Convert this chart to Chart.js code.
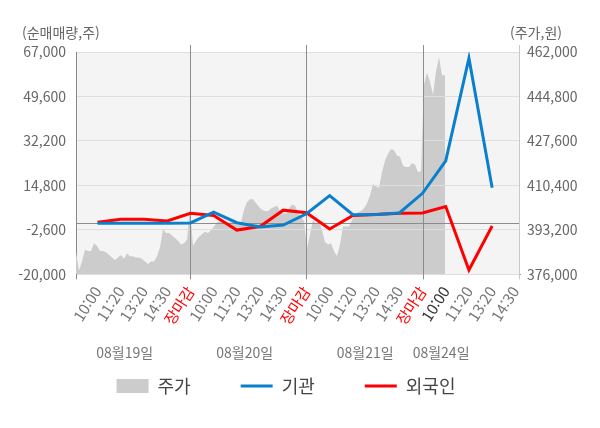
<!DOCTYPE html>
<html lang="ko">
<head>
<meta charset="utf-8">
<script src="https://cdn.jsdelivr.net/npm/chart.js@4.4.1/dist/chart.umd.min.js"></script>
<style>
  html, body { margin: 0; padding: 0; background: #fff; }
  #wrap { width: 600px; height: 428px; }
</style>
</head>
<body>
<div id="wrap"><canvas id="chart"></canvas></div>
<script>
// 시간축 라벨 (4거래일)
const timeLabels = [
    '10:00', '11:20', '13:20', '14:30', '장마감',
    '10:00', '11:20', '13:20', '14:30', '장마감',
    '10:00', '11:20', '13:20', '14:30', '장마감',
    '10:00', '11:20', '13:20', '14:30'
];
const dateLabels = ['08월19일', '08월20일', '08월21일', '08월24일'];

// 순매매량 (주)
const instValues = [0, 0, 0, 0, 100, 4300, 200, -1500, -700, 3700, 10800, 3300, 3400, 4000, 11700, 24400, 64600, 13900];
const foreignValues = [400, 1500, 1500, 900, 3900, 3000, -2700, -1300, 5100, 4100, -2300, 3000, 3400, 3900, 4000, 6500, -18300, -1100];

// 주가 (원) - 일별 분봉
const priceDay1 = [384500, 377500, 381000, 385500, 385000, 385000, 388000, 387000, 385000, 385000,
    384500, 383500, 382500, 381500, 382500, 383500, 382000, 384000, 383000, 383000,
    382500, 382500, 382000, 381000, 380000, 381000, 381000, 383000, 386500, 393500,
    392000, 392000, 391000, 390000, 389000, 387500, 388000, 389500];
const priceDay2 = [401500, 387000, 389000, 390500, 391500, 392500, 392000, 393000, 394500, 396000,
    396500, 396000, 396000, 396000, 396000, 396000, 395000, 396000, 401000, 404000,
    405000, 405000, 403500, 402000, 401000, 400500, 400500, 401500, 402000, 402500,
    400500, 399500, 399500, 401500, 403000, 402500, 400000, 398500, 396500];
const priceDay3 = [386000, 391500, 397000, 395500, 397000, 393000, 388500, 387500, 388000, 385000,
    383000, 387500, 394500, 394500, 394500, 397000, 399000, 400000, 400500, 401500,
    403500, 406500, 411000, 410000, 409500, 415500, 420000, 422500, 424500, 424000,
    422000, 421500, 418000, 417500, 417500, 419000, 418500, 415500, 416000];
const priceDay4 = [449500, 454000, 450500, 445500, 454500, 460000, 453000, 453000];

const leftTicks = { min: -20000, max: 67000, step: 17400 };
const rightTicks = { min: 376000, max: 462000, step: 17200 };

const priceValues = [...priceDay1, ...priceDay2, ...priceDay3, ...priceDay4];
const closeIdx = timeLabels.map((l, i) => (l === '장마감' ? i : -1)).filter(i => i >= 0);
const lastClose = closeIdx[closeIdx.length - 1];
const fmt = v => Number(v).toLocaleString('en-US');

Chart.defaults.font.family = "'Noto Sans CJK KR', 'Noto Sans', sans-serif";
Chart.defaults.color = '#666';

const chartDecor = {
    id: 'chartDecor',
    afterLayout(chart) {
        // 범례를 조금 왼쪽으로
        if (chart.legend) chart.legend.right -= 28;
    },
    beforeDraw(chart) {
        const { ctx, chartArea: a } = chart;
        ctx.save();
        ctx.fillStyle = '#f4f4f4';
        ctx.fillRect(a.left, a.top, a.right - a.left, a.bottom - a.top);
        ctx.restore();
    },
    afterDatasetDraw(chart, args) {
        if (args.index !== 0) return;
        // 주가 영역 위에 격자선을 다시 그림
        const { ctx, chartArea: a, scales } = chart;
        scales.y.drawGrid(a);
        ctx.save();
        ctx.lineWidth = 1;
        ctx.strokeStyle = '#8c8c8c';
        ctx.beginPath();
        const y0 = Math.round(scales.y.getPixelForValue(0)) + 0.5;
        ctx.moveTo(a.left, y0);
        ctx.lineTo(a.right, y0);
        closeIdx.forEach(i => {
            const x = Math.round(scales.x.getPixelForValue(i)) + 0.5;
            ctx.moveTo(x, a.top - 7);
            ctx.lineTo(x, a.bottom + 5);
        });
        ctx.moveTo(Math.round(a.left) + 0.5, a.bottom);
        ctx.lineTo(Math.round(a.left) + 0.5, a.bottom + 5);
        ctx.stroke();
        ctx.strokeStyle = '#c8c8c8';
        ctx.beginPath();
        ctx.moveTo(Math.round(a.right) - 0.5, a.top - 7);
        ctx.lineTo(Math.round(a.right) - 0.5, a.bottom + 5);
        ctx.stroke();
        ctx.restore();
    },
    afterDraw(chart) {
        const { ctx, chartArea: a, scales } = chart;
        ctx.save();
        ctx.fillStyle = '#666';
        ctx.font = "14px 'Noto Sans CJK KR'";
        ctx.textBaseline = 'middle';
        ctx.textAlign = 'left';
        ctx.fillText('(순매매량,주)', 22, a.top - 19);
        ctx.fillText('(주가,원)', 510, a.top - 19);
        // 날짜 라벨
        const datePos = [1.17, 6.34, 11.53, 14.8];
        ctx.fillStyle = '#777';
        ctx.textAlign = 'center';
        dateLabels.forEach((d, i) => {
            ctx.fillText(d, scales.x.getPixelForValue(datePos[i]), 353);
        });
        ctx.restore();
    }
};

const ctx = document.getElementById('chart');
new Chart(ctx, {
    type: 'line',
    data: {
        datasets: [
            {
                label: '주가',
                data: priceValues.map((v, i) => ({ x: i, y: v })),
                xAxisID: 'xp',
                yAxisID: 'y1',
                backgroundColor: '#cccccc',
                borderColor: '#cccccc',
                borderWidth: 0,
                fill: 'start',
                pointRadius: 0,
                pointStyle: 'rect',
                order: 3
            },
            {
                label: '기관',
                data: instValues.map((v, i) => ({ x: i, y: v })),
                xAxisID: 'x',
                yAxisID: 'y',
                borderColor: '#0a80cc',
                backgroundColor: '#0a80cc',
                borderWidth: 3,
                pointRadius: 0,
                pointStyle: 'line',
                order: 1
            },
            {
                label: '외국인',
                data: foreignValues.map((v, i) => ({ x: i, y: v })),
                xAxisID: 'x',
                yAxisID: 'y',
                borderColor: '#ff0000',
                backgroundColor: '#ff0000',
                borderWidth: 3,
                pointRadius: 0,
                pointStyle: 'line',
                order: 2
            }
        ]
    },
    options: {
        responsive: true,
        maintainAspectRatio: false,
        animation: false,
        layout: { padding: { top: 52, bottom: 23, left: 0, right: 0 } },
        plugins: {
            tooltip: { enabled: false },
            legend: {
                position: 'bottom',
                labels: {
                    usePointStyle: true,
                    pointStyleWidth: 32,
                    boxHeight: 14,
                    padding: 50,
                    color: '#444',
                    font: { size: 18 },
                    sort: (a, b) => a.datasetIndex - b.datasetIndex
                }
            }
        },
        scales: {
            x: {
                type: 'linear',
                position: 'bottom',
                min: -0.93,
                max: 18.2,
                afterBuildTicks: axis => { axis.ticks = timeLabels.map((_, i) => ({ value: i })); },
                afterFit: axis => { axis.height = 52.7; },
                grid: { display: false, drawTicks: false },
                border: { color: '#999' },
                ticks: {
                    autoSkip: false,
                    minRotation: 57,
                    maxRotation: 57,
                    padding: 9,
                    font: { size: 15 },
                    callback: (v, i) => timeLabels[i],
                    color: c => {
                        if (timeLabels[c.index] === '장마감') return '#ff0000';
                        if (c.index === lastClose + 1) return '#333';
                        return '#777';
                    }
                }
            },
            xp: {
                type: 'linear',
                display: false,
                min: 0,
                max: 148
            },
            y: {
                position: 'left',
                min: leftTicks.min,
                max: leftTicks.max,
                afterFit: axis => { axis.width = 76; },
                grid: { color: '#dedede', drawTicks: false },
                border: { color: '#888' },
                ticks: {
                    stepSize: leftTicks.step,
                    padding: 10,
                    font: { size: 14 },
                    color: '#666',
                    callback: v => fmt(v)
                }
            },
            y1: {
                position: 'right',
                min: rightTicks.min,
                max: rightTicks.max,
                afterFit: axis => { axis.width = 80; },
                grid: { display: false, drawTicks: false },
                border: { display: false },
                ticks: {
                    stepSize: rightTicks.step,
                    padding: 7,
                    font: { size: 14 },
                    color: '#666',
                    callback: v => fmt(v)
                }
            }
        }
    },
    plugins: [chartDecor]
});
</script>
</body>
</html>
